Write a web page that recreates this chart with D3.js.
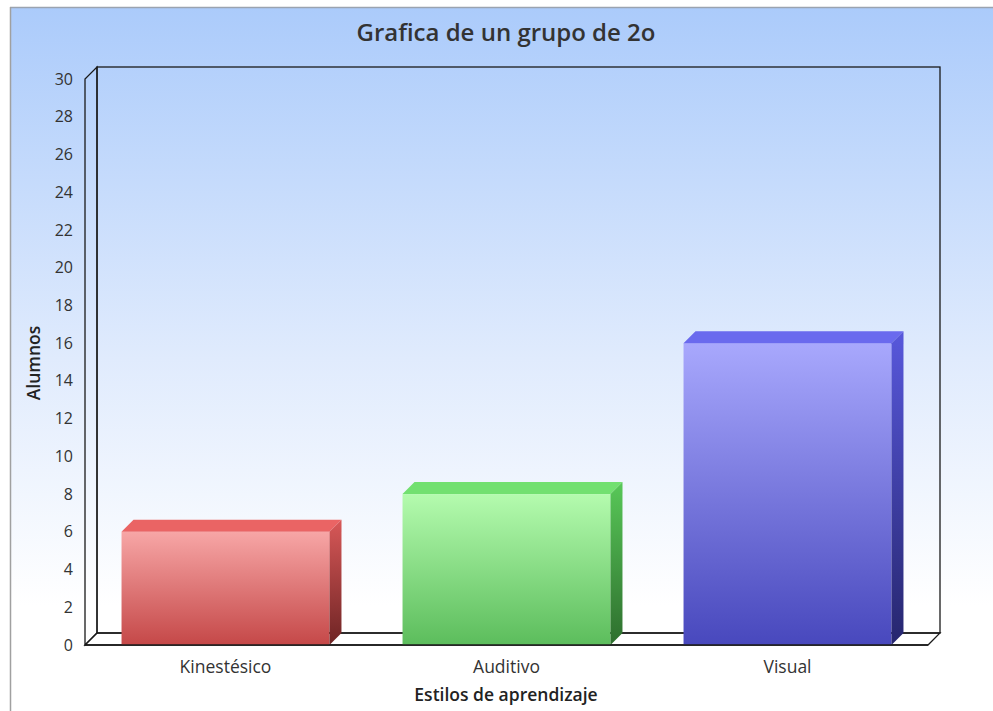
<!DOCTYPE html>
<html lang="es">
<head>
<meta charset="UTF-8">
<title>Grafica de un grupo de 2o</title>
<script src="https://d3js.org/d3.v7.min.js"></script>
<style>
    body { margin: 0; padding: 0; background: #fff; }
    svg { display: block; font-family: "Open Sans", "Noto Sans", sans-serif; }
</style>
</head>
<body>
<svg width="993" height="711"></svg>
<script>
    // chart data
    const categories = ["Kinestésico", "Auditivo", "Visual"];
    const alumnos = [6, 8, 16];
    const yTicks = d3.range(0, 31, 2);

    const faceTop = ["#f7a6a6", "#b4fbae", "#a8a8fd"];
    const faceBottom = ["#c54848", "#5cbd5c", "#4848bd"];
    const topColor = ["#ea6464", "#72e070", "#6a6aee"];
    const sideTop = ["#d85858", "#58c858", "#5858dc"];
    const sideBottom = ["#6e2424", "#2e6e2e", "#26266e"];

    const W = 993, H = 711;
    const depth = 12;
    const front = { left: 85, right: 928, top: 79, bottom: 645 };

    const svg = d3.select("svg");
    const defs = svg.append("defs");

    const bg = defs.append("linearGradient").attr("id", "bg")
        .attr("x1", 0).attr("y1", 0).attr("x2", 0).attr("y2", 1);
    bg.append("stop").attr("offset", "0%").attr("stop-color", "#abcbfb");
    bg.append("stop").attr("offset", "50%").attr("stop-color", "#e0ebfd");
    bg.append("stop").attr("offset", "85%").attr("stop-color", "#ffffff");

    categories.forEach((c, i) => {
        const g1 = defs.append("linearGradient").attr("id", "face" + i)
            .attr("x1", 0).attr("y1", 0).attr("x2", 0).attr("y2", 1);
        g1.append("stop").attr("offset", "0%").attr("stop-color", faceTop[i]);
        g1.append("stop").attr("offset", "100%").attr("stop-color", faceBottom[i]);
        const g2 = defs.append("linearGradient").attr("id", "side" + i)
            .attr("x1", 0).attr("y1", 0).attr("x2", 0).attr("y2", 1);
        g2.append("stop").attr("offset", "0%").attr("stop-color", sideTop[i]);
        g2.append("stop").attr("offset", "100%").attr("stop-color", sideBottom[i]);
    });

    // panel
    svg.append("rect").attr("x", 10).attr("y", 7)
        .attr("width", W - 10).attr("height", H - 7)
        .attr("fill", "url(#bg)");
    svg.append("line").attr("x1", 10).attr("x2", W).attr("y1", 7.5).attr("y2", 7.5)
        .attr("stroke", "#9aa3b0").attr("stroke-width", 1.5);
    svg.append("line").attr("x1", 10.5).attr("x2", 10.5).attr("y1", 7).attr("y2", H)
        .attr("stroke", "#a0a0a0").attr("stroke-width", 1.5);

    const x = d3.scaleBand()
        .domain(categories)
        .range([front.left, front.right])
        .paddingInner(0.26)
        .paddingOuter(0.13);

    const y = d3.scaleLinear()
        .domain([0, 30])
        .range([front.bottom, front.top]);

    // walls
    const wall = svg.append("g").attr("fill", "none").attr("stroke", "#1a1a1a").attr("stroke-width", 1.3);
    wall.append("polygon")
        .attr("fill", "#ffffff")
        .attr("points", [
            [front.left, y(0)], [front.left + depth, y(0) - depth],
            [front.right + depth, y(0) - depth], [front.right, y(0)]
        ].join(" "));
    wall.append("rect")
        .attr("x", front.left + depth).attr("y", y(30) - depth)
        .attr("width", front.right - front.left).attr("height", y(0) - y(30));
    wall.append("polygon")
        .attr("points", [
            [front.left, y(0)], [front.left, y(30)],
            [front.left + depth, y(30) - depth], [front.left + depth, y(0) - depth]
        ].join(" "));

    // y tick labels
    svg.append("g").selectAll("text")
        .data(yTicks)
        .join("text")
        .attr("x", 73)
        .attr("y", d => y(d))
        .attr("dy", "0.35em")
        .attr("text-anchor", "end")
        .attr("font-size", 16)
        .attr("fill", "#333")
        .text(d => d);

    // bars
    const bars = svg.append("g").selectAll("g")
        .data(alumnos)
        .join("g");

    bars.append("rect")
        .attr("x", (d, i) => x(categories[i]))
        .attr("y", d => y(d))
        .attr("width", x.bandwidth())
        .attr("height", d => y(0) - y(d))
        .attr("fill", (d, i) => `url(#face${i})`);

    bars.append("polygon")
        .attr("fill", (d, i) => topColor[i])
        .attr("points", (d, i) => {
            const x0 = x(categories[i]), x1 = x0 + x.bandwidth(), yt = y(d);
            return [[x0, yt], [x0 + depth, yt - depth], [x1 + depth, yt - depth], [x1, yt]].join(" ");
        });

    bars.append("polygon")
        .attr("fill", (d, i) => `url(#side${i})`)
        .attr("points", (d, i) => {
            const x1 = x(categories[i]) + x.bandwidth(), yt = y(d), yb = y(0);
            return [[x1, yt], [x1 + depth, yt - depth], [x1 + depth, yb - depth], [x1, yb]].join(" ");
        });

    // front baseline over bars
    svg.append("line")
        .attr("x1", front.left).attr("x2", front.right)
        .attr("y1", y(0)).attr("y2", y(0))
        .attr("stroke", "#1a1a1a").attr("stroke-width", 1.3);

    // category labels
    svg.append("g").selectAll("text")
        .data(categories)
        .join("text")
        .attr("x", d => x(d) + x.bandwidth() / 2)
        .attr("y", 673)
        .attr("text-anchor", "middle")
        .attr("font-size", 17.5)
        .attr("fill", "#333")
        .text(d => d);

    // titles
    svg.append("text")
        .attr("x", 506).attr("y", 41)
        .attr("text-anchor", "middle")
        .attr("font-size", 24).attr("font-weight", 600)
        .attr("fill", "#333")
        .text("Grafica de un grupo de 2o");

    svg.append("text")
        .attr("x", 506).attr("y", 701)
        .attr("text-anchor", "middle")
        .attr("font-size", 17.5).attr("font-weight", 600)
        .attr("fill", "#222")
        .text("Estilos de aprendizaje");

    svg.append("text")
        .attr("transform", "translate(40,363) rotate(-90)")
        .attr("text-anchor", "middle")
        .attr("font-size", 17.5).attr("font-weight", 600)
        .attr("fill", "#222")
        .text("Alumnos");
</script>
</body>
</html>
